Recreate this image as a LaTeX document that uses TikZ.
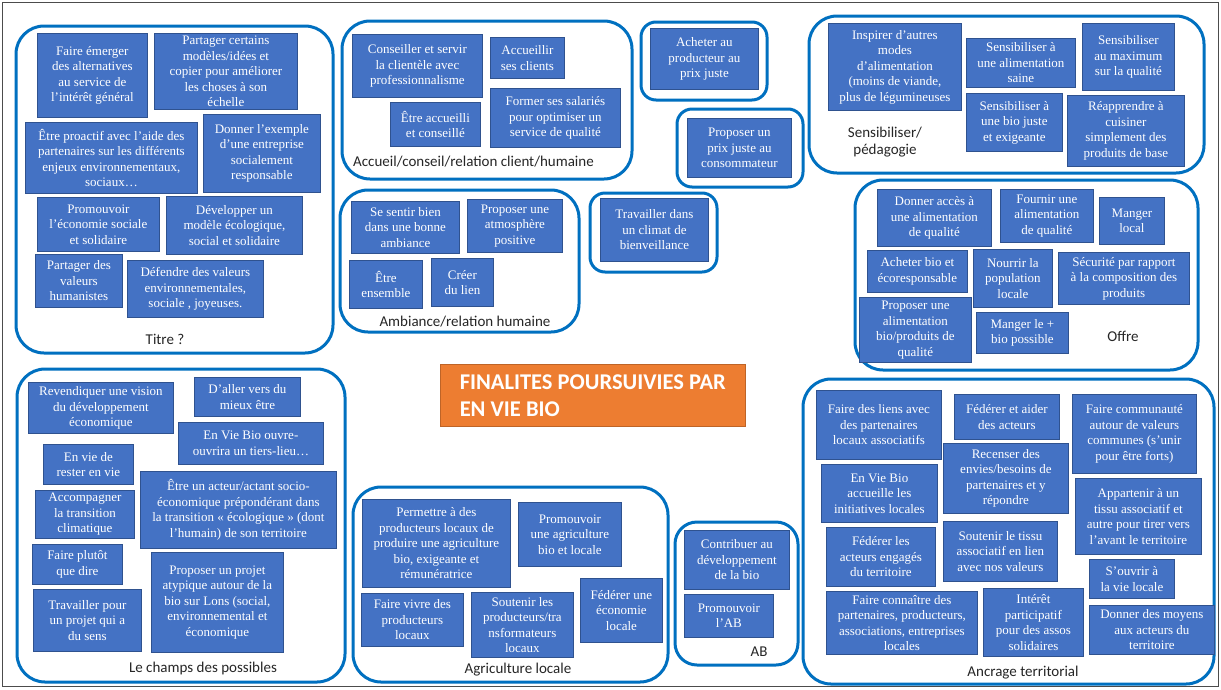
\documentclass[tikz,border=0pt]{standalone}
\usepackage{fontspec}
\setmainfont{Liberation Serif}
\newfontfamily\lblfont{Carlito}
\definecolor{boxfill}{HTML}{4472C4}
\definecolor{boxline}{HTML}{2F528F}
\definecolor{grpblue}{HTML}{0070C0}
\definecolor{orng}{HTML}{ED7D31}
\tikzset{
  bx/.style={draw=boxline, line width=0.8pt, fill=boxfill, text=white, align=center,
    inner xsep=2pt, inner ysep=1pt, font=\fontsize{13}{15.5}\selectfont},
  grp/.style={draw=grpblue, line width=3pt, rounded corners=28pt},
  sgrp/.style={draw=grpblue, line width=3pt, rounded corners=15pt},
  lbl/.style={font=\lblfont\fontsize{15}{17}\selectfont, text=black!85, align=center, inner sep=0pt},
  ttl/.style={draw=orng!80!black, line width=0.6pt, fill=orng, text=white, align=left,
    font=\lblfont\bfseries\fontsize{22.5}{27}\selectfont, anchor=north west, inner xsep=18pt, inner ysep=0pt}
}
\newcommand\bx[6]{\node[bx, minimum width={#4-#2}, minimum height={#5-#3}, anchor=north west] (#1) at (#2,#3) {#6};}
\begin{document}
\begin{tikzpicture}[x=1pt,y=-1pt]
\fill[white] (0,0) rectangle (1221,689);
\useasboundingbox (0,0) rectangle (1221,689);
\draw[black!70, line width=1pt] (2.5,2.5) rectangle (1218.5,686.5);

% ---------- Titre ?
\draw[grp] (16,26) rectangle (333,353);
\bx{e1}{37}{33}{147}{117}{Faire émerger\\des alternatives\\au service de\\l’intérêt général}
\bx{e2}{154}{33}{297}{109}{Partager certains\\modèles/idées et\\copier pour améliorer\\les choses à son\\échelle}
\bx{e3}{25}{122}{197}{193}{Être proactif avec l’aide des\\partenaires sur les différents\\enjeux environnementaux,\\sociaux…}
\bx{e4}{203}{114}{320}{192}{Donner l’exemple\\d’une entreprise\\socialement\\responsable}
\bx{e5}{37}{197}{159}{251}{Promouvoir\\l’économie sociale\\et solidaire}
\bx{e6}{166}{196}{302}{254}{Développer un\\modèle écologique,\\social et solidaire}
\bx{e7}{35}{254}{122}{307}{Partager des\\valeurs\\humanistes}
\bx{e8}{127}{260}{263}{317}{Défendre des valeurs\\environnementales,\\sociale , joyeuses.}
\node[lbl] (lTitre) at (165,339) {Titre ?};

% ---------- Accueil
\draw[grp] (342,21) rectangle (632,179);
\bx{a1}{352}{34}{482}{97}{Conseiller et servir\\la clientèle avec\\professionnalisme}
\bx{a2}{490}{37}{564}{78}{Accueillir\\ses clients}
\bx{a3}{390}{102}{480}{146}{Être accueilli\\et conseillé}
\bx{a4}{490}{88}{620}{147}{Former ses salariés\\pour optimiser un\\service de qualité}
\node[lbl, anchor=west] (lAcc) at (353,162) {Accueil/conseil/relation client/humaine};

% ---------- Ambiance
\draw[grp] (340,190) rectangle (579,332);
\bx{b1}{351}{201}{459}{253}{Se sentir bien\\dans une bonne\\ambiance}
\bx{b2}{467}{199}{562}{252}{Proposer une\\atmosphère\\positive}
\bx{b3}{349}{260}{422}{308}{Être\\ensemble}
\bx{b4}{431}{258}{493}{306}{Créer\\du lien}
\node[lbl] (lAmb) at (465,322) {Ambiance/relation humaine};

% ---------- middle singles
\draw[sgrp] (641,22) rectangle (767,100);
\bx{m1}{650}{28}{758}{89}{Acheter au\\producteur au\\prix juste}
\draw[sgrp] (677,109) rectangle (803,187);
\bx{m2}{687}{118}{791}{177}{Proposer un\\prix juste au\\consommateur}
\draw[sgrp] (590,193) rectangle (717,272);
\bx{m3}{600}{198}{708}{261}{Travailler dans\\un climat de\\bienveillance}

% ---------- Sensibiliser
\draw[grp] (809,16) rectangle (1204,173);
\bx{s1}{828}{23}{961}{110}{Inspirer d’autres\\modes\\d’alimentation\\(moins de viande,\\plus de légumineuses}
\bx{s2}{966}{38}{1075}{87}{Sensibiliser à\\une alimentation\\saine}
\bx{s3}{1082}{23}{1174}{90}{Sensibiliser\\au maximum\\sur la qualité}
\bx{s4}{966}{93}{1062}{151}{Sensibiliser à\\une bio juste\\et exigeante}
\bx{s5}{1067}{95}{1184}{166}{Réapprendre à\\cuisiner\\simplement des\\produits de base}
\node[lbl] (lSens) at (885,142) {Sensibiliser/\\pédagogie};

% ---------- Offre
\draw[grp] (855,180) rectangle (1198,370);
\bx{o1}{877}{189}{991}{246}{Donner accès à\\une alimentation\\de qualité}
\bx{o2}{1000}{189}{1093}{242}{Fournir une\\alimentation\\de qualité}
\bx{o3}{1099}{197}{1164}{244}{Manger\\local}
\bx{o4}{867}{250}{967}{292}{Acheter bio et\\écoresponsable}
\bx{o5}{973}{249}{1052}{307}{Nourrir la\\population\\locale}
\bx{o6}{1058}{252}{1189}{304}{Sécurité par rapport\\à la composition des\\produits}
\bx{o7}{859}{297}{971}{362}{Proposer une\\alimentation\\bio/produits de\\qualité}
\bx{o8}{976}{312}{1068}{353}{Manger le +\\bio possible}
\node[lbl] (lOffre) at (1123,336) {Offre};

% ---------- Title
\node[ttl, minimum width=305, minimum height=62] (title) at (440,364) {FINALITES POURSUIVIES PAR\\EN VIE BIO};

% ---------- Le champs des possibles
\draw[grp] (17,369) rectangle (345,682);
\bx{c1}{28}{382}{173}{433}{Revendiquer une vision\\du développement\\économique}
\bx{c2}{194}{377}{300}{416}{D’aller vers du\\mieux être}
\bx{c3}{178}{422}{323}{464}{En Vie Bio ouvre-\\ouvrira un tiers-lieu…}
\bx{c4}{43}{444}{133}{484}{En vie de\\rester en vie}
\bx{c5}{35}{490}{134}{538}{Accompagner\\la transition\\climatique}
\bx{c6}{140}{471}{336}{548}{Être un acteur/actant socio-\\économique prépondérant dans\\la transition « écologique » (dont\\l’humain) de son territoire}
\bx{c7}{32}{544}{122}{584}{Faire plutôt\\que dire}
\bx{c8}{151}{552}{283}{652}{Proposer un projet\\atypique autour de la\\bio sur Lons (social,\\environnemental et\\économique}
\bx{c9}{33}{589}{141}{651}{Travailler pour\\un projet qui a\\du sens}
\node[lbl] (lChamps) at (203,668) {Le champs des possibles};

% ---------- Agriculture locale
\draw[grp] (353,487) rectangle (668,682);
\bx{g1}{362}{499}{510}{587}{Permettre à des\\producteurs locaux de\\produire une agriculture\\bio, exigeante et\\rémunératrice}
\bx{g2}{518}{502}{621}{566}{Promouvoir\\une agriculture\\bio et locale}
\bx{g3}{361}{593}{463}{646}{Faire vivre des\\producteurs\\locaux}
\bx{g4}{471}{592}{573}{657}{Soutenir les\\producteurs/tra\\nsformateurs\\locaux}
\bx{g5}{580}{578}{662}{642}{Fédérer une\\économie\\locale}
\node[lbl] (lAgri) at (518,670) {Agriculture locale};

% ---------- AB
\draw[sgrp, rounded corners=22pt] (675,522) rectangle (798,665);
\bx{h1}{684}{530}{789}{589}{Contribuer au\\développement\\de la bio}
\bx{h2}{684}{594}{773}{637}{Promouvoir\\l’AB}
\node[lbl] (lAB) at (759,652) {AB};

% ---------- Ancrage territorial
\draw[grp] (803,379) rectangle (1214,684);
\bx{t1}{816}{390}{941}{459}{Faire des liens avec\\des partenaires\\locaux associatifs}
\bx{t2}{954}{394}{1059}{439}{Fédérer et aider\\des acteurs}
\bx{t3}{1072}{394}{1196}{473}{Faire communauté\\autour de valeurs\\communes (s’unir\\pour être forts)}
\bx{t4}{821}{464}{937}{522}{En Vie Bio\\accueille les\\initiatives locales}
\bx{t5}{943}{443}{1068}{513}{Recenser des\\envies/besoins de\\partenaires et y\\répondre}
\bx{t6}{1075}{478}{1201}{554}{Appartenir à un\\tissu associatif et\\autre pour tirer vers\\l’avant le territoire}
\bx{t7}{826}{527}{935}{586}{Fédérer les\\acteurs engagés\\du territoire}
\bx{t8}{943}{521}{1057}{581}{Soutenir le tissu\\associatif en lien\\avec nos valeurs}
\bx{t9}{1089}{559}{1174}{598}{S’ouvrir à\\la vie locale}
\bx{t10}{826}{591}{977}{654}{Faire connaître des\\partenaires, producteurs,\\associations, entreprises\\locales}
\bx{t11}{983}{588}{1083}{656}{Intérêt\\participatif\\pour des assos\\solidaires}
\bx{t12}{1089}{605}{1214}{654}{Donner des moyens\\aux acteurs du\\territoire}
\node[lbl] (lAnc) at (1023,673) {Ancrage territorial};
\end{tikzpicture}
\end{document}
